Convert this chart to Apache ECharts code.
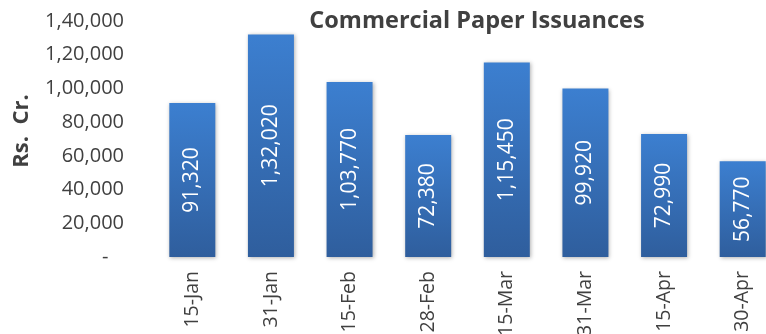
<!DOCTYPE html>
<html><head><meta charset="utf-8">
<script src="https://cdn.jsdelivr.net/npm/echarts@6/dist/echarts.min.js"></script>
<style>html,body{margin:0;padding:0;background:#fff}#c{width:766px;height:334px}</style>
</head><body><div id="c"></div>
<script>
const categories = ["15-Jan","31-Jan","15-Feb","28-Feb","15-Mar","31-Mar","15-Apr","30-Apr"];
const issuances = [91320,132020,103770,72380,115450,99920,72990,56770];
const yTicks = [0,20000,40000,60000,80000,100000,120000,140000];
const yAxisTitle = "Rs.  Cr.";

function inr(v){
  if(v===0) return "-   ";
  let s = String(Math.round(v));
  if(s.length<=3) return s;
  let last3 = s.slice(-3), rest = s.slice(0,-3);
  rest = rest.replace(/\B(?=(\d{2})+(?!\d))/g, ",");
  return rest + "," + last3;
}
const FONT = "Open Sans";
const chart = echarts.init(document.getElementById('c'));
chart.setOption({
  animation:false,
  title:{text:"Commercial Paper Issuances",left:472,top:4,textAlign:'center',
    textStyle:{fontFamily:FONT,fontSize:23.5,fontWeight:'bold',color:'#404040'}},
  graphic:[{type:'text',x:22,y:131,rotation:Math.PI/2,
    style:{text:yAxisTitle,align:'center',verticalAlign:'middle',fontFamily:FONT,fontSize:22,fontWeight:'bold',fill:'#404040'}}],
  grid:{left:153,top:21,width:629,height:236,containLabel:false,outerBoundsMode:'none'},
  xAxis:{type:'category',data:categories,
    axisLine:{show:false},axisTick:{show:false},
    axisLabel:{rotate:90,margin:14,color:'#404040',fontFamily:FONT,fontSize:19.5}},
  yAxis:{type:'value',min:yTicks[0],max:yTicks[yTicks.length-1],interval:20000,
    splitLine:{show:false},axisLine:{show:false},axisTick:{show:false},
    axisLabel:{margin:29,color:'#404040',fontFamily:FONT,fontSize:20,formatter:inr}},
  series:[{type:'bar',data:issuances,barWidth:'58.5%',
    itemStyle:{color:new echarts.graphic.LinearGradient(0,0,0,1,[{offset:0,color:'#3c7fd0'},{offset:1,color:'#2f5e9d'}]),
      shadowColor:'rgba(0,0,0,0.3)',shadowBlur:4,shadowOffsetX:1,shadowOffsetY:1},
    label:{show:true,position:'inside',rotate:90,color:'#ffffff',fontFamily:FONT,fontSize:21,formatter:p=>inr(p.value)}}]
});
</script></body></html>
